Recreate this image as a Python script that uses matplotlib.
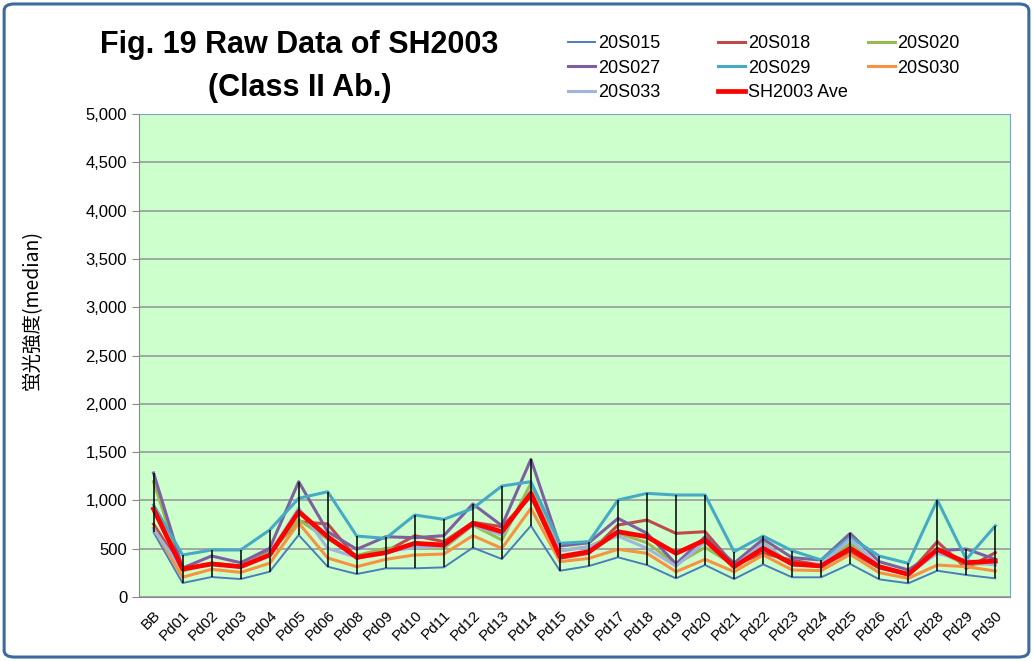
import numpy as np
import matplotlib.pyplot as plt
from matplotlib.patches import FancyBboxPatch

plt.rcParams['font.family'] = ['Liberation Sans', 'DejaVu Sans']

cats = ['BB', 'Pd01', 'Pd02', 'Pd03', 'Pd04', 'Pd05', 'Pd06', 'Pd08', 'Pd09', 'Pd10',
        'Pd11', 'Pd12', 'Pd13', 'Pd14', 'Pd15', 'Pd16', 'Pd17', 'Pd18', 'Pd19', 'Pd20',
        'Pd21', 'Pd22', 'Pd23', 'Pd24', 'Pd25', 'Pd26', 'Pd27', 'Pd28', 'Pd29', 'Pd30']

s015 = [670, 145, 207, 186, 262, 642, 314, 238, 297, 297, 307, 511, 393, 738, 272, 321,
        411, 331, 193, 331, 186, 338, 204, 204, 342, 183, 142, 272, 228, 193]
s018 = [755, 285, 350, 320, 470, 780, 756, 400, 470, 635, 573, 773, 728, 1038, 400, 452,
        745, 797, 659, 676, 330, 452, 380, 330, 470, 300, 235, 573, 297, 459]
s020 = [1194, 270, 345, 320, 460, 800, 600, 430, 504, 510, 504, 745, 590, 1177, 480, 521,
        660, 562, 340, 514, 330, 562, 330, 320, 555, 310, 240, 470, 340, 345]
s027 = [1284, 300, 425, 355, 504, 1194, 676, 494, 624, 614, 635, 963, 738, 1425, 528, 562,
        814, 659, 342, 624, 350, 600, 407, 383, 659, 366, 280, 479, 497, 390]
s029 = [952, 435, 487, 487, 694, 1022, 1090, 631, 607, 849, 804, 918, 1149, 1194, 556, 573,
        1004, 1073, 1056, 1056, 469, 631, 479, 383, 618, 424, 349, 1004, 390, 738]
s030 = [714, 205, 287, 255, 349, 766, 404, 314, 390, 435, 445, 635, 504, 918, 366, 400,
        494, 452, 262, 390, 262, 435, 280, 273, 442, 252, 193, 331, 314, 269]
s033 = [700, 280, 345, 320, 450, 921, 504, 410, 470, 511, 521, 745, 640, 1100, 475, 521,
        631, 504, 320, 570, 320, 555, 330, 340, 600, 320, 240, 452, 380, 330]
ave = [911, 290, 342, 314, 435, 883, 624, 411, 459, 556, 538, 763, 676, 1073, 418, 469,
       676, 624, 452, 590, 314, 504, 342, 321, 504, 314, 235, 494, 355, 373]

names = ['20S015', '20S018', '20S020', '20S027', '20S029', '20S030', '20S033', 'SH2003 Ave']
series = [s015, s018, s020, s027, s029, s030, s033, ave]
colors = ['#4A7EBB', '#BE4B48', '#98B954', '#7D60A0', '#46AAC5', '#F69240', '#A0B4DC', '#FF0000']
widths = [1.4, 2.2, 2.2, 2.2, 2.2, 2.2, 2.2, 3.4]

fig = plt.figure(figsize=(10.33, 6.61), dpi=100)
ax = fig.add_axes([0.1346, 0.0968, 0.843, 0.7307])
ax.set_facecolor('#CCFFCC')

x = np.arange(len(cats))
data = np.array(series)
ax.vlines(x, data.min(axis=0), data.max(axis=0), color='black', lw=1.1, zorder=4)

handles = []
for name, vals, c, w in zip(names, series, colors, widths):
    h, = ax.plot(x, vals, color=c, lw=w, label=name, zorder=3)
    handles.append(h)

ax.set_xlim(-0.5, len(cats) - 0.5)
ax.set_ylim(0, 5000)
ax.set_yticks(np.arange(0, 5001, 500))
ax.set_yticklabels(['{:,}'.format(v) for v in range(0, 5001, 500)], fontsize=12)
ax.set_xticks(x)
ax.set_xticklabels(cats, rotation=45, ha='right', rotation_mode='anchor', fontsize=11)
ax.tick_params(axis='x', length=0, pad=8)
ax.tick_params(axis='y', length=5, color='#888888')
ax.grid(axis='y', color='#999999', lw=1.2)
ax.set_axisbelow(True)
for s in ['left', 'bottom']:
    ax.spines[s].set_color('#888888')
for s in ['top', 'right']:
    ax.spines[s].set_color('#7FA3CC')

ax.set_ylabel('蛍光強度(median)', fontsize=14,
              family=['Noto Sans CJK JP', 'DejaVu Sans'])
ax.yaxis.set_label_coords(-0.111, 0.594)

fig.text(0.29, 0.899, 'Fig. 19 Raw Data of SH2003\n(Class II Ab.)', ha='center', va='center',
         fontsize=22, fontweight='bold', linespacing=1.55)

# legend: three columns filled row by row, each placed on its own
for col, x0 in enumerate([0.543, 0.688, 0.833]):
    idx = list(range(col, len(names), 3))
    leg = fig.legend([handles[i] for i in idx], [names[i] for i in idx],
                     loc='upper left', bbox_to_anchor=(x0, 0.958), frameon=False,
                     fontsize=13, handlelength=1.5, handletextpad=0.15,
                     labelspacing=0.42, borderaxespad=0)

fig.patches.append(FancyBboxPatch((0.004, 0.006), 0.992, 0.988, boxstyle='round,pad=0,rounding_size=0.01',
                                  transform=fig.transFigure, fill=False, ec='#3D6A9E', lw=2.2))

fig.savefig('out.png', dpi=100)
